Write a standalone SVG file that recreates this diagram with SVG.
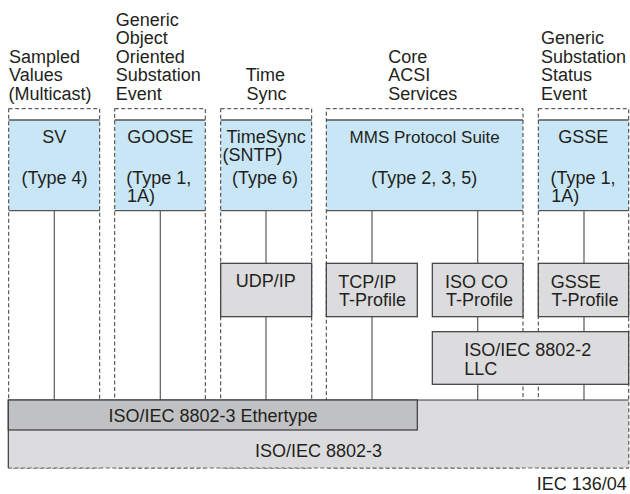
<svg xmlns="http://www.w3.org/2000/svg" width="630" height="494" viewBox="0 0 630 494">
  <style>
    text { font-family: "Liberation Sans", Arial, Helvetica, sans-serif; font-size: 18px; fill: #231f20; }
    .mid { text-anchor: middle; }
    .end { text-anchor: end; }
    .frame { fill: none; stroke: #3a3a3a; stroke-width: 1; stroke-dasharray: 4 2.5; }
    .app { fill: #c9e6f6; }
    .edge { stroke: #555; stroke-width: 1.3; fill: none; }
    .layer { fill: #dcdcde; stroke: #3a3a3a; stroke-width: 1.2; }
    .ether { fill: #c0c1c3; stroke: #3a3a3a; stroke-width: 1.2; }
    .link { stroke: #5a5a5a; stroke-width: 1.2; fill: none; }
  </style>

  <!-- column headings -->
  <g id="headings">
    <text x="9" y="62.5">Sampled</text>
    <text x="9" y="81">Values</text>
    <text x="8.5" y="99.5">(Multicast)</text>

    <text x="115.7" y="25.5">Generic</text>
    <text x="115.7" y="44">Object</text>
    <text x="115.7" y="62.5">Oriented</text>
    <text x="115.7" y="81">Substation</text>
    <text x="115.7" y="99.5">Event</text>

    <text x="245.7" y="81">Time</text>
    <text x="246.5" y="99.5">Sync</text>

    <text x="388.3" y="62.5">Core</text>
    <text x="388.3" y="81">ACSI</text>
    <text x="388.3" y="99.5">Services</text>

    <text x="541" y="44">Generic</text>
    <text x="541" y="62.5">Substation</text>
    <text x="541" y="81">Status</text>
    <text x="541" y="99.5">Event</text>
  </g>

  <!-- application boxes: fill with top and bottom rules -->
  <g id="sv">
    <rect class="app" x="8.7" y="120" width="91" height="90.7"/>
    <path class="edge" d="M8.7 120H99.7M8.7 210.7H99.7"/>
    <text class="mid" x="54.3" y="143">SV</text>
    <text class="mid" x="54.5" y="184">(Type 4)</text>
  </g>
  <g id="goose">
    <rect class="app" x="114.7" y="120" width="90.6" height="90.7"/>
    <path class="edge" d="M114.7 120H205.3M114.7 210.7H205.3"/>
    <text class="mid" x="160.3" y="143">GOOSE</text>
    <text x="126.2" y="183.5">(Type 1,</text>
    <text x="127" y="201.5">1A)</text>
  </g>
  <g id="timesync">
    <rect class="app" x="220.7" y="120" width="91" height="90.7"/>
    <path class="edge" d="M220.7 120H311.7M220.7 210.7H311.7"/>
    <text x="226.5" y="143">TimeSync</text>
    <text x="222.5" y="161">(SNTP)</text>
    <text class="mid" x="265" y="184">(Type 6)</text>
  </g>
  <g id="mms">
    <rect class="app" x="326.3" y="120" width="196.7" height="90.7"/>
    <path class="edge" d="M326.3 120H523M326.3 210.7H523"/>
    <text class="mid" x="424.7" y="143" style="font-size:17px">MMS Protocol Suite</text>
    <text class="mid" x="424.2" y="184">(Type 2, 3, 5)</text>
  </g>
  <g id="gsse">
    <rect class="app" x="538.3" y="120" width="90.4" height="90.7"/>
    <path class="edge" d="M538.3 120H628.7M538.3 210.7H628.7"/>
    <text class="mid" x="583.3" y="143">GSSE</text>
    <text x="550.5" y="183.5">(Type 1,</text>
    <text x="551.3" y="201.5">1A)</text>
  </g>

  <!-- dashed profile frames, one per column -->
  <g id="frames">
    <rect class="frame" x="8.7" y="108.7" width="91" height="359.3"/>
    <rect class="frame" x="114.7" y="108.7" width="90.6" height="359.3"/>
    <rect class="frame" x="220.7" y="108.7" width="91" height="359.3"/>
    <rect class="frame" x="326.3" y="108.7" width="196.7" height="359.3"/>
    <rect class="frame" x="538.3" y="108.7" width="90.4" height="359.3"/>
  </g>

  <!-- stack connectors -->
  <g id="connectors">
    <path class="link" d="M54.3 210.7V400"/>
    <path class="link" d="M160.3 210.7V400"/>
    <path class="link" d="M266 210.7V263.3M266 316.7V400"/>
    <path class="link" d="M372 210.7V263.3M372 316.7V400"/>
    <path class="link" d="M477.7 210.7V263.3M477.7 316.7V331.7M477.7 384.3V400"/>
    <path class="link" d="M584 210.7V263.3M584 316.7V331.7M584 384.3V400"/>
  </g>

  <!-- transport layers -->
  <g id="udp-ip">
    <rect class="layer" x="220.7" y="263.3" width="91" height="53.4"/>
    <text class="mid" x="265.8" y="287">UDP/IP</text>
  </g>
  <g id="tcp-ip">
    <rect class="layer" x="326.3" y="263.3" width="91" height="53.4"/>
    <text x="338.3" y="288">TCP/IP</text>
    <text x="339" y="306">T-Profile</text>
  </g>
  <g id="iso-co">
    <rect class="layer" x="432.3" y="263.3" width="90.7" height="53.4"/>
    <text x="445" y="288">ISO CO</text>
    <text x="446" y="306">T-Profile</text>
  </g>
  <g id="gsse-t">
    <rect class="layer" x="538.3" y="263.3" width="90.4" height="53.4"/>
    <text x="550.7" y="288">GSSE</text>
    <text x="551.5" y="306">T-Profile</text>
  </g>
  <g id="llc">
    <rect class="layer" x="432.3" y="331.7" width="196.4" height="52.6"/>
    <text x="464.3" y="356">ISO/IEC 8802-2</text>
    <text x="464.3" y="375">LLC</text>
  </g>

  <!-- link layer -->
  <g id="ieee-8802-3">
    <rect fill="#dcdcde" x="8.3" y="400" width="620.4" height="68"/>
    <path class="edge" style="stroke:#3a3a3a;stroke-width:1.2" d="M8.3 468V400H628.7"/>
    <path class="frame" style="stroke:#666" d="M8.3 468H628.7V400"/>
    <text class="mid" x="318.6" y="457">ISO/IEC 8802-3</text>
  </g>
  <g id="ethertype">
    <rect class="ether" x="8.3" y="400" width="409" height="30"/>
    <text class="mid" x="213" y="421.5">ISO/IEC 8802-3 Ethertype</text>
  </g>

  <text class="end" x="626.7" y="489.5">IEC 136/04</text>
</svg>
